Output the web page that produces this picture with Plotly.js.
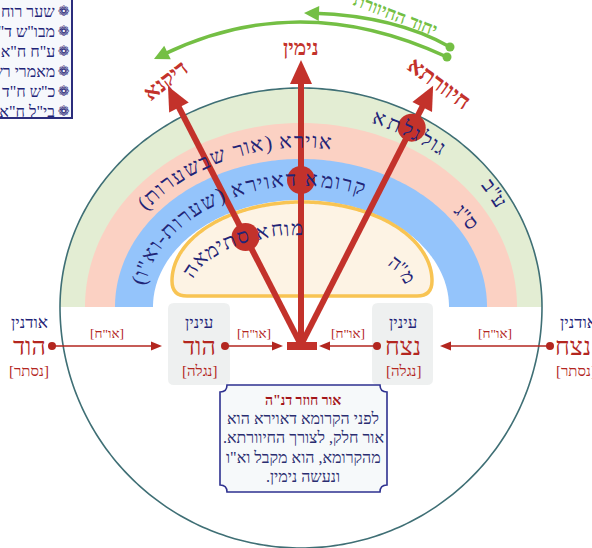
<!DOCTYPE html>
<html><head><meta charset="utf-8">
<script src="https://cdn.plot.ly/plotly-3.0.1.min.js"></script>
<style>html,body{margin:0;padding:0;background:#fff}</style>
</head><body><div id="chart" style="width:592px;height:548px"></div>
<script>
// ---------------- data ----------------
const sourceList = ['שער רוח הקודש','מבו"ש ד"ב','ע"ח ח"א פ"ב','מאמרי רשב"י','כ"ש ח"ד','בי"ל ח"א ש'];

const bandColors = ['#e3edd3','#fbd1c3','#94c4fb','#ffffff'];
const bandRx = [241, 216, 186, 148];
const bandRy = [219, 184, 148, 107];
const rainbowCenter = [301, 307];
const outlineRyBottom = 241;
const domeBox = [172, 432, 202, 296];

// arcPhiTo = null -> natural letter spacing centred on arcPhiFrom
const arcTexts   = ['גולגלתא','ע"ב','אוירא (אור שבשערות)','ס"ג','קרומא דאוירא (שערות-וא"ו)','מוחא סתימאה','מ"ה'];
const arcPhiFrom = [51, 32.5, 81, 34.5, 67, 89, 24];
const arcPhiTo   = [72, null, 143, null, 170, 167, null];
const arcA       = [228, 230, 201, 201, 166, 118, 110];
const arcB       = [201, 212, 166, 160, 128, 62, 52];
const arcCy      = [307, 307, 307, 307, 307, 290, 290];
const arcSize    = [21, 20, 21, 20, 21, 20.5, 19];

const branchLabels = ['דיקנא','נימין','חיוורתא'];
const branchAngles = [-27.2, 0, 27.0];
const branchLengths = [291, 285, 291];
const branchDotT = [0.417, 0.579, 0.838];
const branchLabelGap = [6, 12, 2];
const branchLabelAngle = [-38, 0, 36];
const branchLabelSize = [22, 21, 23];
const branchOrigin = [301, 345];

const unifyLabel = 'יחוד החיוורתי';

const nodeTitles = ['אודנין','עינין','עינין','אודנין'];
const nodeNames  = ['הוד','הוד','נצח','נצח'];
const nodeTags   = ['[נסתר]','[נגלה]','[נגלה]','[נסתר]'];
const nodeX      = [29, 199, 403, 573];
const flowFrom   = [52, 225, 377, 550];
const flowTo     = [162, 283, 319, 440];
const flowLabel  = '[או"ח]';

const noteTitle = 'אור חוזר דנ"ה';
const noteLines = ['לפני הקרומא דאוירא הוא','אור חלק, לצורך החיוורתא.','מהקרומא, הוא מקבל וא"ו','ונעשה נימין.'];

// ---------------- helpers ----------------
const RLM = '\u200F';
const rtl = s => RLM + s + RLM;
const FAM = 'Liberation Serif, DejaVu Serif, DejaVu Sans, serif';
const FAMC = '"Liberation Serif", "DejaVu Serif", "DejaVu Sans", serif';
const NAVY = '#1f2477', RED = '#c3322b', DRED = '#b3261f', GREEN = '#74bf44', TEAL = '#3f6f75';
const cvs = document.createElement('canvas'); const ctx = cvs.getContext('2d');
function textW(s, size, weight){ ctx.font = (weight||'normal') + ' ' + size + 'px ' + FAMC; return ctx.measureText(s).width; }
function ellPt(cx, cy, a, b, phi){ const p = phi*Math.PI/180; return [cx + a*Math.cos(p), cy - b*Math.sin(p)]; }
function P(p){ return p[0].toFixed(2) + ',' + p[1].toFixed(2); }
function poly(pts, close){ return 'M' + pts.map(P).join('L') + (close ? 'Z' : ''); }
function interp(xs, ys, x){
  let lo = 0, hi = xs.length - 1;
  if (x <= xs[0]) return ys[0]; if (x >= xs[hi]) return ys[hi];
  while (hi - lo > 1){ const m = (lo + hi) >> 1; if (xs[m] <= x) lo = m; else hi = m; }
  const t = (x - xs[lo])/(xs[hi] - xs[lo]); return ys[lo] + t*(ys[hi] - ys[lo]);
}
function makeArc(cx, cy, a, b){
  const ph = [], ss = []; let s = 0, prev = ellPt(cx, cy, a, b, -20);
  for (let d = -20; d <= 200; d += 0.2){ const p = ellPt(cx, cy, a, b, d); s += Math.hypot(p[0]-prev[0], p[1]-prev[1]); prev = p; ph.push(d); ss.push(s); }
  return {ph, ss};
}
const shapes = [], annotations = [];
function ann(x, y, text, size, color, extra){
  annotations.push(Object.assign({x, y, xref:'x', yref:'y', text: rtl(text), showarrow:false,
    xanchor:'center', yanchor:'middle', font:{family:FAM, size, color}}, extra||{}));
}
function curvedText(text, cx, cy, a, b, phiFrom, phiTo, size, color){
  const arc = makeArc(cx, cy, a, b); const chars = Array.from(text);
  const ws = chars.map(c => textW(c, size)); const total = ws.reduce((p,q)=>p+q, 0);
  let s0, k;
  if (phiTo === null){ k = 1; s0 = interp(arc.ph, arc.ss, phiFrom) - total/2; }
  else { s0 = interp(arc.ph, arc.ss, phiFrom); k = (interp(arc.ph, arc.ss, phiTo) - s0)/total; }
  let s = s0;
  chars.forEach((c, i) => {
    const sm = s + ws[i]*k/2; s += ws[i]*k; if (c === ' ') return;
    const phi = interp(arc.ss, arc.ph, sm); const p = ellPt(cx, cy, a, b, phi);
    const r = phi*Math.PI/180; const rot = Math.atan2(b*Math.cos(r), a*Math.sin(r))*180/Math.PI;
    ann(p[0], p[1], c, size, color, {textangle: rot});
  });
}
function arrowHead(tip, dir, len, hw, color){
  const bx = tip[0] - dir[0]*len, by = tip[1] - dir[1]*len;
  const px = -dir[1], py = dir[0];
  shapes.push({type:'path', layer:'below', path: poly([tip, [bx+px*hw, by+py*hw], [bx-px*hw, by-py*hw]], true), fillcolor:color, line:{width:0}});
}

// ---------------- legend box ----------------
shapes.push({type:'rect', layer:'below', x0:-10, x1:72, y0:-10, y1:118, fillcolor:'#f6f8fc', line:{color:'#2b2d7c', width:2}});
sourceList.forEach((s, i) => {
  const y = 11 + i*20;
  ann(57, y, s, 16, NAVY, {xanchor:'right'});
  annotations.push({x:64, y, xref:'x', yref:'y', text:'❁', showarrow:false, font:{family:'DejaVu Sans', size:14, color:NAVY}});
});

// ---------------- rainbow ----------------
const [cx0, cy0] = rainbowCenter;
bandRx.forEach((a, i) => {
  const pts = []; for (let d = 180; d >= 0; d -= 1) pts.push(ellPt(cx0, cy0, a, bandRy[i], d));
  shapes.push({type:'path', layer:'below', path: poly(pts, true), fillcolor: bandColors[i], line:{width:0}});
});
(() => {
  const [l, r, t, bt] = domeBox; const dcx = (l + r)/2, a = (r - l)/2, dcy = bt - 15, b = dcy - t;
  const pts = []; for (let d = 180; d >= 0; d -= 1) pts.push(ellPt(dcx, dcy, a, b, d));
  const path = poly(pts, false) + 'Q' + P([r, bt]) + ' ' + P([r - 15, bt]) + 'L' + P([l + 15, bt]) + 'Q' + P([l, bt]) + ' ' + P([l, dcy]) + 'Z';
  shapes.push({type:'path', layer:'below', path, fillcolor:'#fdf3e4', line:{color:'#f8c453', width:3.5}});
})();
(() => {
  const pts = [];
  for (let d = 0; d <= 180; d += 1) pts.push(ellPt(cx0, cy0, bandRx[0], bandRy[0], d));
  for (let d = 180; d <= 360; d += 1) pts.push(ellPt(cx0, cy0, bandRx[0], outlineRyBottom, d));
  shapes.push({type:'path', layer:'below', path: poly(pts, true), line:{color:TEAL, width:1.6}});
})();

// ---------------- red branches ----------------
const dotX = [], dotY = [];
branchAngles.forEach((ang, i) => {
  const r = ang*Math.PI/180; const dir = [Math.sin(r), -Math.cos(r)];
  const tip = [branchOrigin[0] + dir[0]*branchLengths[i], branchOrigin[1] + dir[1]*branchLengths[i]];
  const end = [tip[0] - dir[0]*16, tip[1] - dir[1]*16];
  shapes.push({type:'line', layer:'below', x0:branchOrigin[0], y0:branchOrigin[1], x1:end[0], y1:end[1], line:{color:RED, width:6}});
  arrowHead(tip, dir, 24, 11, RED);
  dotX.push(branchOrigin[0] + dir[0]*branchLengths[i]*branchDotT[i]);
  dotY.push(branchOrigin[1] + dir[1]*branchLengths[i]*branchDotT[i]);
  const lp = [tip[0] + dir[0]*branchLabelGap[i] + (i === 2 ? 5 : 0), tip[1] + dir[1]*branchLabelGap[i]];
  ann(lp[0], lp[1], branchLabels[i], branchLabelSize[i], RED, {textangle: branchLabelAngle[i], font:{family:FAM, size:branchLabelSize[i], color:RED, weight:'bold'}});
});
shapes.push({type:'rect', layer:'below', x0:287, x1:317, y0:342, y1:350, fillcolor:RED, line:{width:0}});

// ---------------- green unification arrows ----------------
const greenStart = [[450, 47], [447, 57]];
const greenCtrl = [[395, 16], [300, -12]];
const greenEnd = [[304, 13], [154, 59]];
greenStart.forEach((s, i) => {
  const c = greenCtrl[i], e = greenEnd[i];
  let dir = [e[0] - c[0], e[1] - c[1]]; const n = Math.hypot(dir[0], dir[1]); dir = [dir[0]/n, dir[1]/n];
  const e2 = [e[0] - dir[0]*10, e[1] - dir[1]*10];
  shapes.push({type:'path', layer:'below', path:'M' + P(s) + 'Q' + P(c) + ' ' + P(e2), line:{color:GREEN, width:3.5}});
  arrowHead(e, dir, 15, 7.5, GREEN);
});
ann(393, 14, unifyLabel, 18, GREEN, {textangle: 21, font:{family:FAM, size:18, color:GREEN, weight:'bold'}});

// ---------------- arc texts ----------------
arcTexts.forEach((t, i) => curvedText(t, cx0 + (arcCy[i] === 307 ? 0 : 1), arcCy[i], arcA[i], arcB[i], arcPhiFrom[i], arcPhiTo[i], arcSize[i], NAVY));

// ---------------- bottom nodes and flows ----------------
[[168, 230], [372, 433]].forEach(([l, r]) => {
  const t = 303, b = 385, q = 6;
  const path = 'M' + P([l+q, t]) + 'L' + P([r-q, t]) + 'Q' + P([r, t]) + ' ' + P([r, t+q]) + 'L' + P([r, b-q]) + 'Q' + P([r, b]) + ' ' + P([r-q, b]) +
    'L' + P([l+q, b]) + 'Q' + P([l, b]) + ' ' + P([l, b-q]) + 'L' + P([l, t+q]) + 'Q' + P([l, t]) + ' ' + P([l+q, t]) + 'Z';
  shapes.push({type:'path', layer:'below', path, fillcolor:'#eef0f0', line:{width:0}});
});
nodeX.forEach((x, i) => {
  ann(x + (i === 3 ? 5 : 0), 322, nodeTitles[i], 17, NAVY);
  ann(x, 346, nodeNames[i], 25, DRED);
  ann(x + (i === 3 ? 3 : 0), 371, nodeTags[i], 15, DRED);
});
const smallDotX = [], smallDotY = [];
flowFrom.forEach((f, i) => {
  const t = flowTo[i]; const dir = [Math.sign(t - f), 0];
  shapes.push({type:'line', layer:'below', x0:f, y0:346, x1:t - dir[0]*8, y1:346, line:{color:DRED, width:1.6}});
  arrowHead([t, 346], dir, 11, 4.5, DRED);
  smallDotX.push(f); smallDotY.push(346);
  ann((f + t)/2, 333, flowLabel, 13.5, DRED);
});

// ---------------- note box ----------------
(() => {
  const L = 220, R = 387, T = 385, B = 492, r = 7;
  const path = 'M' + P([L+r, T]) + 'L' + P([R-r, T]) + 'Q' + P([R-r, T+r]) + ' ' + P([R, T+r]) + 'L' + P([R, B-r]) + 'Q' + P([R-r, B-r]) + ' ' + P([R-r, B]) +
    'L' + P([L+r, B]) + 'Q' + P([L+r, B-r]) + ' ' + P([L, B-r]) + 'L' + P([L, T+r]) + 'Q' + P([L+r, T+r]) + ' ' + P([L+r, T]) + 'Z';
  shapes.push({type:'path', layer:'below', path, fillcolor:'#f6f9fa', line:{color:'#2e3190', width:1.6}});
})();
ann(303, 400, noteTitle, 14, '#a3151a', {font:{family:FAM, size:14, color:'#a3151a', weight:'bold'}});
noteLines.forEach((l, i) => ann(303, 418 + i*19.5, l, 16, '#2a2d70'));

// ---------------- traces ----------------
const traces = [
  {x: dotX, y: dotY, mode:'markers', type:'scatter', marker:{size:28, color:RED}, hoverinfo:'skip'},
  {x: smallDotX, y: smallDotY, mode:'markers', type:'scatter', marker:{size:8, color:DRED}, hoverinfo:'skip'},
  {x: greenStart.map(p=>p[0]), y: greenStart.map(p=>p[1]), mode:'markers', type:'scatter', marker:{size:9, color:GREEN}, hoverinfo:'skip'}
];

const layout = {
  width:592, height:548, margin:{l:0, r:0, t:0, b:0},
  paper_bgcolor:'#ffffff', plot_bgcolor:'#ffffff', showlegend:false,
  xaxis:{range:[0, 592], visible:false, fixedrange:true},
  yaxis:{range:[548, 0], visible:false, fixedrange:true},
  shapes, annotations
};
Plotly.newPlot('chart', traces, layout, {staticPlot:true, displayModeBar:false});
</script></body></html>
